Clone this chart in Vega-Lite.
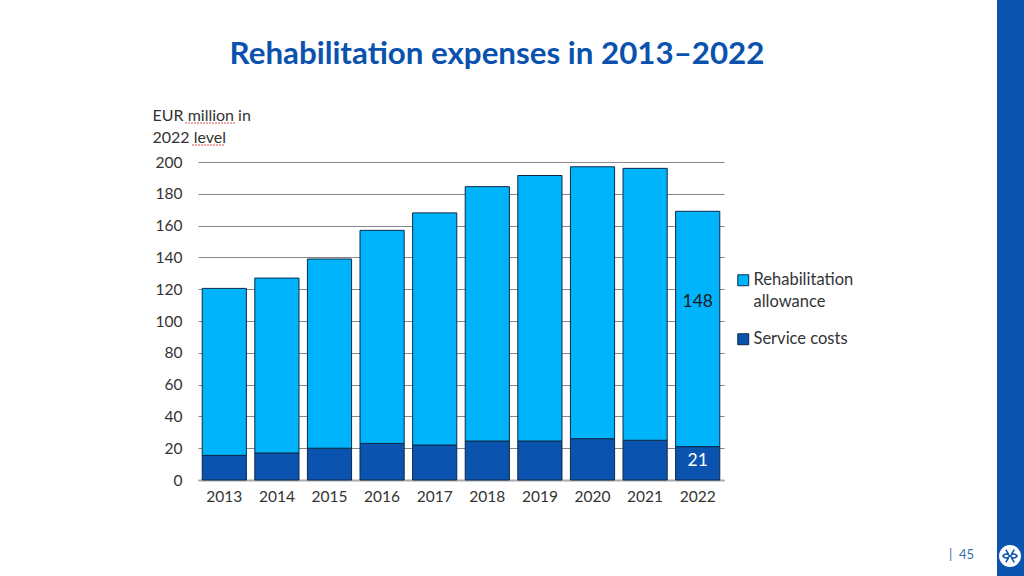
{
"$schema":"https://vega.github.io/schema/vega-lite/v6.json",
"width":526,"height":318,
"autosize":{"type":"none"},
"padding":{"left":198,"top":162,"right":300,"bottom":96},
"background":"white",
"title":{"text":"Rehabilitation expenses in 2013–2022","font":"Lato","fontSize":31.3,"fontWeight":"bold","color":"#0a52ad","anchor":"middle","frame":"group","dx":36,"offset":-95,"baseline":"alphabetic"},
"config":{"view":{"stroke":null},"font":"Lato"},
"datasets":{"costs":[
{"year":"2013","series":"Service costs","value":15.5},{"year":"2013","series":"Rehabilitation allowance","value":105},
{"year":"2014","series":"Service costs","value":17},{"year":"2014","series":"Rehabilitation allowance","value":110},
{"year":"2015","series":"Service costs","value":20},{"year":"2015","series":"Rehabilitation allowance","value":119},
{"year":"2016","series":"Service costs","value":23},{"year":"2016","series":"Rehabilitation allowance","value":134},
{"year":"2017","series":"Service costs","value":22},{"year":"2017","series":"Rehabilitation allowance","value":146},
{"year":"2018","series":"Service costs","value":24.5},{"year":"2018","series":"Rehabilitation allowance","value":160},
{"year":"2019","series":"Service costs","value":24.5},{"year":"2019","series":"Rehabilitation allowance","value":167},
{"year":"2020","series":"Service costs","value":26},{"year":"2020","series":"Rehabilitation allowance","value":171},
{"year":"2021","series":"Service costs","value":25},{"year":"2021","series":"Rehabilitation allowance","value":171},
{"year":"2022","series":"Service costs","value":21},{"year":"2022","series":"Rehabilitation allowance","value":148}
]},
"resolve":{"scale":{"x":"independent","y":"independent"},"axis":{"x":"independent","y":"independent"}},
"layer":[
{"layer":[
{"data":{"name":"costs"},
"mark":{"type":"bar","stroke":"#0c2a48","strokeWidth":1},
"encoding":{
"x":{"field":"year","type":"nominal","scale":{"paddingInner":0.16,"paddingOuter":0.08},
"axis":{"title":null,"labelAngle":0,"labelFontSize":15.5,"labelColor":"#333333","labelPadding":9,"ticks":false,"domainColor":"#aaaaaa","domainWidth":2}},
"y":{"field":"value","type":"quantitative","stack":"zero","scale":{"domain":[0,200],"nice":false},
"axis":{"values":[0,20,40,60,80,100,120,140,160,180,200],"tickCount":11,"labelOverlap":false,"grid":true,"gridColor":"#888888","gridWidth":1,"ticks":false,"domain":false,"labelFontSize":15.5,"labelColor":"#333333","labelPadding":16,
"title":["EUR million in","2022 level"],"titleAngle":0,"titleAlign":"left","titleBaseline":"alphabetic","titleFontSize":16,"titleFontWeight":"normal","titleColor":"#333333","titleX":-46,"titleY":-42,"titleLineHeight":22}},
"color":{"field":"series","type":"nominal","scale":{"domain":["Rehabilitation allowance","Service costs"],"range":["#00b4fb","#0a53ae"]},
"legend":{"title":null,"orient":"none","legendX":537,"legendY":110,"symbolType":"square","symbolSize":120,"symbolStrokeColor":"#0c2a48","symbolStrokeWidth":1,"labelFontSize":16.5,"labelColor":"#333333","labelOffset":2,"rowPadding":20,
"labelExpr":"datum.label == 'Rehabilitation allowance' ? ['Rehabilitation','allowance'] : datum.label",
"encode":{"labels":{"update":{"lineHeight":{"value":22}}}}}}
}},
{"data":{"values":[{"year":"2022","label":"148","at":112}]},
"mark":{"type":"text","fontSize":17.5,"color":"#1a1a1a"},
"encoding":{"x":{"field":"year","type":"nominal"},"y":{"field":"at","type":"quantitative"},"text":{"field":"label"}}},
{"data":{"values":[{"year":"2022","label":"21","at":12}]},
"mark":{"type":"text","fontSize":17.5,"color":"#ffffff"},
"encoding":{"x":{"field":"year","type":"nominal"},"y":{"field":"at","type":"quantitative"},"text":{"field":"label"}}}
]},
{"layer":[
{"data":{"values":[{"item":"side band"}]},
"mark":{"type":"rect","color":"#0a53ae"},
"encoding":{
"x":{"datum":997,"type":"quantitative","scale":{"domain":[0,1024],"range":[-198,826],"nice":false,"zero":false},"axis":null},
"x2":{"datum":1024},
"y":{"datum":0,"type":"quantitative","scale":{"domain":[0,576],"range":[-162,414],"nice":false,"zero":false},"axis":null},
"y2":{"datum":576}}},
{"data":{"values":[{"item":"logo"}]},
"mark":{"type":"point","shape":"circle","filled":true,"color":"white","size":480,"opacity":1},
"encoding":{"x":{"datum":1010,"type":"quantitative"},"y":{"datum":556,"type":"quantitative"}}},
{"data":{"values":[{"item":"logo knot"}]},
"mark":{"type":"point","shape":"M-1,0C-.7,-.45 -.3,-.3 0,0C.3,.3 .7,.45 1,0C.7,-.45 .3,-.3 0,0C-.3,.3 -.7,.45 -1,0ZM-.6,-.9L-.2,-.25M.6,-.9L.2,-.25M-.6,.9L-.2,.25M.6,.9L.2,.25","filled":false,"color":"#0a53ae","strokeWidth":1.5,"size":200,"opacity":1},
"encoding":{"x":{"datum":1010,"type":"quantitative"},"y":{"datum":556,"type":"quantitative"}}},
{"data":{"values":[{"label":"|"}]},
"mark":{"type":"text","fontSize":13,"color":"#3a6ea8","align":"left"},
"encoding":{"x":{"datum":949,"type":"quantitative"},"y":{"datum":555,"type":"quantitative"},"text":{"field":"label"}}},
{"data":{"values":[{"label":"45"}]},
"mark":{"type":"text","fontSize":13,"color":"#3a6ea8","align":"left"},
"encoding":{"x":{"datum":959,"type":"quantitative"},"y":{"datum":555,"type":"quantitative"},"text":{"field":"label"}}},
{"data":{"values":[{"word":"million"}]},
"mark":{"type":"rule","color":"#d9534f","strokeWidth":1.2,"strokeDash":[2,1]},
"encoding":{"x":{"datum":185,"type":"quantitative"},"x2":{"datum":235},"y":{"datum":123,"type":"quantitative"}}},
{"data":{"values":[{"word":"level"}]},
"mark":{"type":"rule","color":"#d9534f","strokeWidth":1.2,"strokeDash":[2,1]},
"encoding":{"x":{"datum":192,"type":"quantitative"},"x2":{"datum":225},"y":{"datum":145,"type":"quantitative"}}}
]}
]
}
